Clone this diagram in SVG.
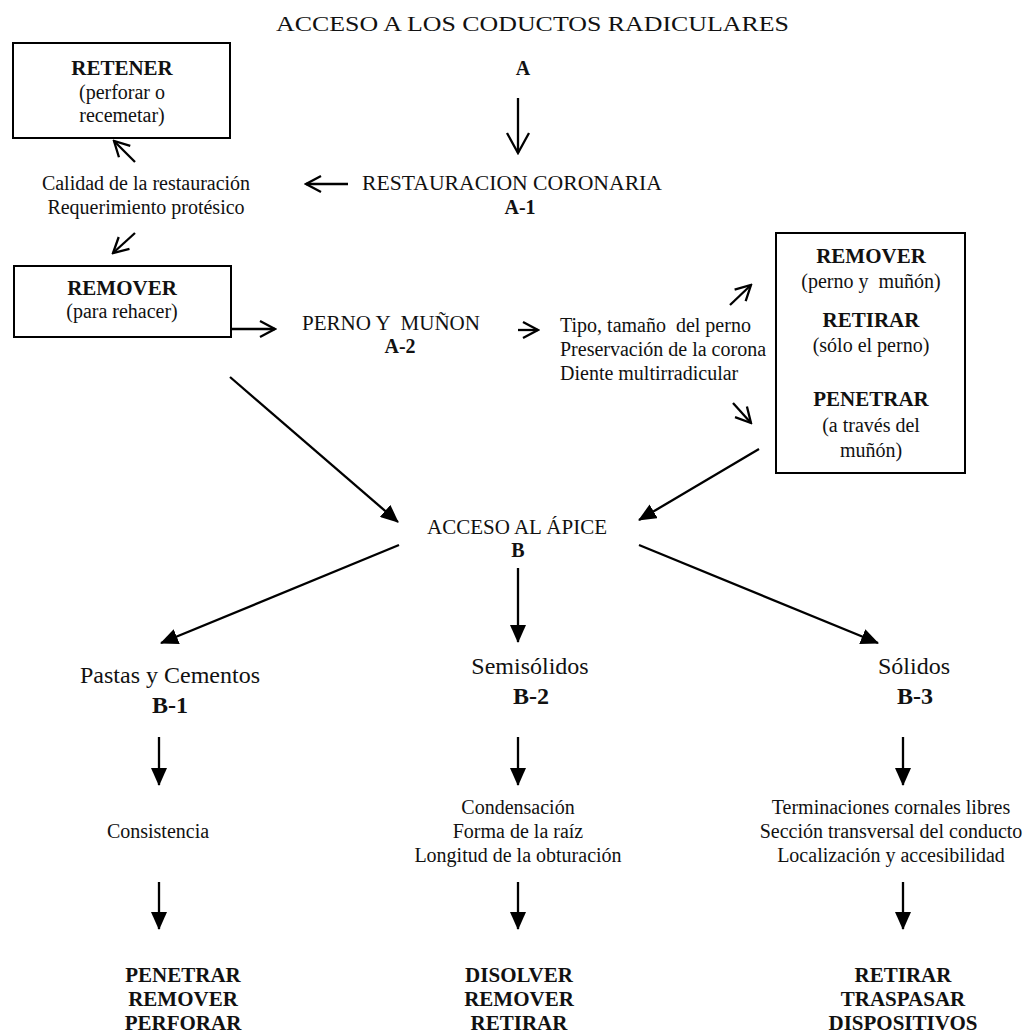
<svg xmlns="http://www.w3.org/2000/svg" width="1034" height="1035" viewBox="0 0 1034 1035">
<style>
text{font-family:"Liberation Serif","Times New Roman",serif;fill:#111;font-size:20px;text-anchor:middle}
.b{font-weight:bold;font-size:21px}
.s{font-weight:bold;font-size:20px}
.l{text-anchor:start}
.h{font-size:24px}
.hb{font-weight:bold;font-size:24px}
.box{fill:#fff;stroke:#000;stroke-width:2}
.c line{stroke:#000;stroke-width:2.3;fill:none}
</style>
<defs>
<marker id="open" viewBox="0 0 20 20" refX="18" refY="10" markerWidth="20" markerHeight="20" markerUnits="userSpaceOnUse" orient="auto"><path d="M3,2 L18,10 L3,18" fill="none" stroke="#000" stroke-width="2.3"/></marker>
<marker id="openL" viewBox="0 0 24 26" refX="22" refY="13" markerWidth="24" markerHeight="26" markerUnits="userSpaceOnUse" orient="auto"><path d="M2,2 L22,13 L2,24" fill="none" stroke="#000" stroke-width="2.3"/></marker>
<marker id="fill" viewBox="0 0 18 16" refX="17" refY="8" markerWidth="18" markerHeight="16" markerUnits="userSpaceOnUse" orient="auto"><path d="M0,0 L18,8 L0,16 z" fill="#000"/></marker>
</defs>
<rect width="1034" height="1035" fill="#fff"/>

<g id="connectors" class="c">
<line x1="518" y1="98" x2="518" y2="153" marker-end="url(#openL)"/>
<line x1="348" y1="184" x2="306" y2="184" marker-end="url(#open)"/>
<line x1="135" y1="162" x2="114" y2="141" marker-end="url(#open)"/>
<line x1="135" y1="233" x2="113" y2="253" marker-end="url(#open)"/>
<line x1="231" y1="329" x2="275" y2="329" marker-end="url(#open)"/>
<line x1="518" y1="330" x2="538" y2="330" marker-end="url(#open)"/>
<line x1="730" y1="305" x2="751" y2="285" marker-end="url(#open)"/>
<line x1="733" y1="403" x2="751" y2="423" marker-end="url(#open)"/>
<line x1="230" y1="377" x2="398" y2="522" marker-end="url(#fill)"/>
<line x1="759" y1="449" x2="639" y2="520" marker-end="url(#fill)"/>
<line x1="518" y1="568" x2="518" y2="642" marker-end="url(#fill)"/>
<line x1="399" y1="545" x2="161" y2="643" marker-end="url(#fill)"/>
<line x1="639" y1="545" x2="878" y2="643" marker-end="url(#fill)"/>
<line x1="159" y1="737" x2="159" y2="785" marker-end="url(#fill)"/>
<line x1="518" y1="737" x2="518" y2="785" marker-end="url(#fill)"/>
<line x1="903" y1="737" x2="903" y2="785" marker-end="url(#fill)"/>
<line x1="159" y1="882" x2="159" y2="929" marker-end="url(#fill)"/>
<line x1="518" y1="882" x2="518" y2="929" marker-end="url(#fill)"/>
<line x1="903" y1="882" x2="903" y2="929" marker-end="url(#fill)"/>
</g>

<g id="title"><text class="l" x="276" y="31" font-size="23" textLength="513" lengthAdjust="spacingAndGlyphs">ACCESO A LOS CODUCTOS RADICULARES</text></g>

<g id="retener">
<rect class="box" x="13" y="43" width="217" height="95"/>
<text class="b" x="122" y="75">RETENER</text>
<text x="122" y="99">(perforar o</text>
<text x="122" y="122">recemetar)</text>
</g>

<g id="nodeA"><text class="s" x="523" y="75">A</text></g>

<g id="a1">
<text class="l" x="362" y="190" textLength="300" lengthAdjust="spacingAndGlyphs">RESTAURACION CORONARIA</text>
<text class="s" x="520" y="214">A-1</text>
</g>

<g id="criterios1">
<text x="146" y="190">Calidad de la restauración</text>
<text x="146" y="214">Requerimiento protésico</text>
</g>

<g id="remover1">
<rect class="box" x="14" y="266" width="217" height="71"/>
<text class="b" x="122" y="295">REMOVER</text>
<text x="122" y="318">(para rehacer)</text>
</g>

<g id="a2">
<text class="l" x="302" y="330" textLength="178" lengthAdjust="spacingAndGlyphs" xml:space="preserve">PERNO Y  MUÑON</text>
<text class="s" x="400" y="353">A-2</text>
</g>

<g id="criterios2">
<text class="l" x="560" y="332" xml:space="preserve">Tipo, tamaño  del perno</text>
<text class="l" x="560" y="356">Preservación de la corona</text>
<text class="l" x="560" y="380">Diente multirradicular</text>
</g>

<g id="opciones">
<rect class="box" x="776" y="233" width="189" height="240"/>
<text class="b" x="871" y="263">REMOVER</text>
<text x="871" y="288" xml:space="preserve">(perno y  muñón)</text>
<text class="b" x="871" y="327">RETIRAR</text>
<text x="871" y="352">(sólo el perno)</text>
<text class="b" x="871" y="406">PENETRAR</text>
<text x="871" y="432">(a través del</text>
<text x="871" y="457">muñón)</text>
</g>

<g id="nodeB">
<text class="l" x="427" y="534" textLength="180" lengthAdjust="spacingAndGlyphs">ACCESO AL ÁPICE</text>
<text class="s" x="518" y="557">B</text>
</g>

<g id="b1">
<text class="h" x="170" y="683">Pastas y Cementos</text>
<text class="hb" x="170" y="713">B-1</text>
</g>
<g id="b2">
<text class="h" x="530" y="674">Semisólidos</text>
<text class="hb" x="531" y="704">B-2</text>
</g>
<g id="b3">
<text class="h" x="914" y="674">Sólidos</text>
<text class="hb" x="915" y="704">B-3</text>
</g>

<g id="criterios-b1"><text x="158" y="838">Consistencia</text></g>
<g id="criterios-b2">
<text x="518" y="814">Condensación</text>
<text x="518" y="838">Forma de la raíz</text>
<text x="518" y="862">Longitud de la obturación</text>
</g>
<g id="criterios-b3">
<text x="891" y="814">Terminaciones cornales libres</text>
<text x="891" y="838">Sección transversal del conducto</text>
<text x="891" y="862">Localización y accesibilidad</text>
</g>

<g id="acciones-b1">
<text class="b" x="183" y="982">PENETRAR</text>
<text class="b" x="183" y="1006">REMOVER</text>
<text class="b" x="183" y="1030">PERFORAR</text>
</g>
<g id="acciones-b2">
<text class="b" x="519" y="982">DISOLVER</text>
<text class="b" x="519" y="1006">REMOVER</text>
<text class="b" x="519" y="1030">RETIRAR</text>
</g>
<g id="acciones-b3">
<text class="b" x="903" y="982">RETIRAR</text>
<text class="b" x="903" y="1006">TRASPASAR</text>
<text class="b" x="903" y="1030">DISPOSITIVOS</text>
</g>
</svg>
